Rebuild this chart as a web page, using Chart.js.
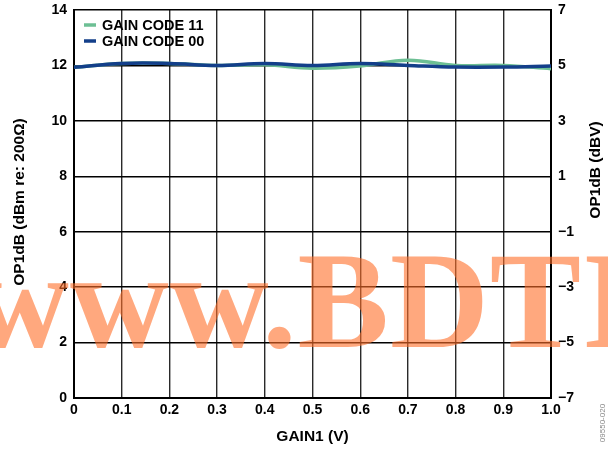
<!DOCTYPE html>
<html>
<head>
<meta charset="utf-8">
<script src="https://cdn.jsdelivr.net/npm/chart.js@4.4.0/dist/chart.umd.min.js"></script>
<style>
  html, body { margin: 0; padding: 0; background: #fff; }
  #wrap { position: relative; width: 608px; height: 452px; }
  canvas { display: block; }
</style>
</head>
<body>
<div id="wrap"><canvas id="c" width="608" height="452"></canvas></div>
<script>
// ---- data ----
const gainV = [0, 0.1, 0.2, 0.3, 0.4, 0.5, 0.6, 0.7, 0.8, 0.9, 1.0];
const gainCode11 = [11.93, 12.07, 12.07, 12.0, 12.02, 11.9, 11.98, 12.19, 12.0, 12.0, 11.88];
const gainCode00 = [11.93, 12.07, 12.07, 12.0, 12.07, 12.0, 12.07, 12.0, 11.94, 11.94, 11.98];
const seriesLabels = ['GAIN CODE 11', 'GAIN CODE 00'];
const leftTicks = [0, 2, 4, 6, 8, 10, 12, 14];
const rightTicks = [-7, -5, -3, -1, 1, 3, 5, 7];
const xTitle = 'GAIN1 (V)';
const yTitle = 'OP1dB (dBm re: 200Ω)';
const y2Title = 'OP1dB (dBV)';
const watermark = 'www.BDTIC.com';
const figCode = '09550-020';

const FONT = 'Liberation Sans, Arial, sans-serif';
const tickFont = { family: FONT, size: 14, weight: 'bold' };

const toPts = (ys) => gainV.map((x, i) => ({ x, y: ys[i] }));

const overlay = {
  id: 'overlay',
  afterDraw(chart) {
    const ctx = chart.ctx;
    const ca = chart.chartArea;
    ctx.save();
    // legend (inside plot, top-left)
    ctx.font = 'bold 14.5px ' + FONT;
    ctx.textBaseline = 'middle';
    ctx.textAlign = 'left';
    const ds = chart.data.datasets;
    [0, 1].forEach((r, k) => {
      const d = ds[r];
      const yy = ca.top + 15 + k * 16;
      ctx.strokeStyle = d.borderColor;
      ctx.lineWidth = 3.5;
      ctx.beginPath();
      ctx.moveTo(84, yy);
      ctx.lineTo(96, yy);
      ctx.stroke();
      ctx.fillStyle = '#000';
      ctx.fillText(d.label, 102, yy + 1);
    });
    // axis titles
    ctx.fillStyle = '#000';
    ctx.font = 'bold 15.5px ' + FONT;
    ctx.textAlign = 'center';
    ctx.textBaseline = 'middle';
    ctx.fillText(xTitle, (ca.left + ca.right) / 2, 437);
    ctx.save();
    ctx.translate(20, 202);
    ctx.rotate(-Math.PI / 2);
    ctx.fillText(yTitle, 0, 0);
    ctx.restore();
    ctx.save();
    ctx.translate(596, 170);
    ctx.rotate(-Math.PI / 2);
    ctx.fillText(y2Title, 0, 0);
    ctx.restore();
    // figure code
    ctx.save();
    ctx.translate(603, 423);
    ctx.rotate(-Math.PI / 2);
    ctx.font = '8px ' + FONT;
    ctx.fillStyle = '#888';
    ctx.fillText(figCode, 0, 0);
    ctx.restore();
    // watermark
    ctx.font = 'bold 137px "Liberation Serif", "Times New Roman", serif';
    ctx.textAlign = 'left';
    ctx.textBaseline = 'alphabetic';
    try { ctx.letterSpacing = '1px'; } catch (e) {}
    ctx.fillStyle = 'rgba(255, 110, 40, 0.6)';
    ctx.fillText(watermark, -30, 347);
    ctx.restore();
  }
};

const noVPad = (w) => (s) => { s.width = w; s.paddingTop = 0; s.paddingBottom = 0; };

new Chart(document.getElementById('c'), {
  type: 'line',
  data: {
    datasets: [
      {
        label: seriesLabels[0],
        data: toPts(gainCode11),
        borderColor: '#6dbf94',
        borderWidth: 3.5,
        pointRadius: 0,
        tension: 0.4,
        fill: false,
        order: 1,
        yAxisID: 'y'
      },
      {
        label: seriesLabels[1],
        data: toPts(gainCode00),
        borderColor: '#133f8a',
        borderWidth: 3.5,
        pointRadius: 0,
        tension: 0.4,
        fill: false,
        order: 0,
        yAxisID: 'y'
      }
    ]
  },
  options: {
    responsive: false,
    animation: false,
    devicePixelRatio: 1,
    layout: { padding: { top: 10, left: 0, right: 0, bottom: 0 } },
    plugins: { legend: { display: false }, tooltip: { enabled: false } },
    scales: {
      x: {
        type: 'linear',
        min: 0, max: 1,
        afterBuildTicks: (s) => { s.ticks = gainV.map(v => ({ value: v })); },
        afterFit: (s) => { s.height = 54; s.paddingLeft = 0; s.paddingRight = 0; },
        ticks: {
          color: '#000', font: tickFont, padding: 4, maxRotation: 0, autoSkip: false,
          callback: (v) => (v === 0 ? '0' : Number(v).toFixed(1))
        },
        grid: { color: '#2a2a2a', lineWidth: 1.4, drawTicks: false },
        border: { color: '#000', width: 2 }
      },
      y: {
        position: 'left',
        min: 0, max: 14,
        afterBuildTicks: (s) => { s.ticks = leftTicks.map(v => ({ value: v })); },
        afterFit: noVPad(74),
        ticks: { color: '#000', font: tickFont, padding: 7 },
        grid: { color: '#000', lineWidth: 1.4, drawTicks: false },
        border: { color: '#000', width: 2 }
      },
      y2: {
        position: 'right',
        min: -7, max: 7,
        afterBuildTicks: (s) => { s.ticks = rightTicks.map(v => ({ value: v })); },
        afterFit: noVPad(57),
        ticks: {
          color: '#000', font: tickFont, padding: 7,
          callback: (v) => (v < 0 ? '\u2212' + Math.abs(v) : String(v))
        },
        grid: { drawOnChartArea: false, drawTicks: false },
        border: { color: '#000', width: 2 }
      }
    }
  },
  plugins: [overlay]
});
</script>
</body>
</html>
